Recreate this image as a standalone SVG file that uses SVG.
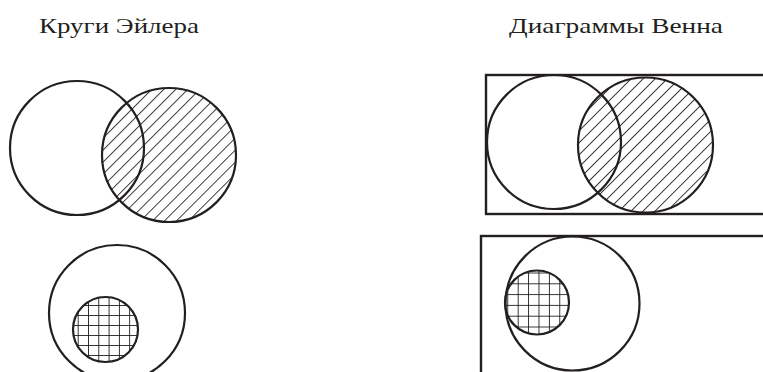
<svg xmlns="http://www.w3.org/2000/svg" width="763" height="372" viewBox="0 0 763 372">
<style>
.c{fill:none;stroke:#231f20;stroke-width:2.2}
.h{fill:url(#hatch)}
.g1{fill:url(#grid1)}
.g2{fill:url(#grid2)}
.r{fill:none;stroke:#231f20;stroke-width:2.4}
.t{font-family:"Liberation Serif","Times New Roman",serif;font-size:22px;fill:#231f20}
</style>
<defs>
<pattern id="hatch" patternUnits="userSpaceOnUse" width="8.5" height="8.5" patternTransform="rotate(45)">
<line x1="0" y1="0" x2="0" y2="8.5" stroke="#231f20" stroke-width="1.7"/>
</pattern>
<pattern id="grid1" patternUnits="userSpaceOnUse" x="77.7" y="305" width="10.3" height="10">
<line x1="0" y1="0" x2="0" y2="10" stroke="#231f20" stroke-width="1.8"/>
<line x1="0" y1="0" x2="10.3" y2="0" stroke="#231f20" stroke-width="1.8"/>
</pattern>
<pattern id="grid2" patternUnits="userSpaceOnUse" x="517.7" y="283.3" width="10.4" height="10.8">
<line x1="0" y1="0" x2="0" y2="10.8" stroke="#231f20" stroke-width="1.8"/>
<line x1="0" y1="0" x2="10.4" y2="0" stroke="#231f20" stroke-width="1.8"/>
</pattern>
</defs>
<rect width="763" height="372" fill="#fff"/>
<g id="title-euler"><text class="t" x="39" y="33" textLength="160" lengthAdjust="spacingAndGlyphs">Круги Эйлера</text></g>
<g id="title-venn"><text class="t" x="509" y="33" textLength="214" lengthAdjust="spacingAndGlyphs">Диаграммы Венна</text></g>
<g id="euler-intersect">
<circle cx="169" cy="155" r="67" class="c h"/>
<circle cx="77" cy="148" r="67" class="c"/>
</g>
<g id="venn-intersect">
<rect x="486" y="75" width="290" height="139" class="r"/>
<circle cx="645.5" cy="145" r="67.5" class="c h"/>
<circle cx="554" cy="142" r="67" class="c"/>
</g>
<g id="euler-subset">
<circle cx="117" cy="313" r="68" class="c"/>
<circle cx="105.5" cy="329.5" r="32.5" class="c g1"/>
</g>
<g id="venn-subset">
<rect x="481" y="236" width="290" height="150" class="r"/>
<circle cx="572.5" cy="303.5" r="67" class="c"/>
<circle cx="537" cy="302.5" r="32" class="c g2"/>
</g>
</svg>
